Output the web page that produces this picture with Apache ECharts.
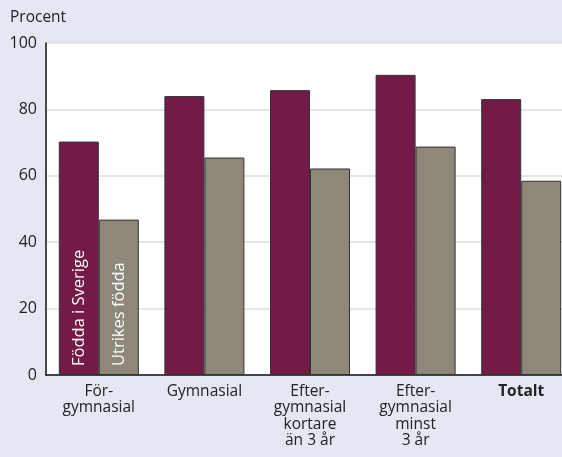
<!DOCTYPE html>
<html>
<head>
<meta charset="utf-8">
<script src="https://cdn.jsdelivr.net/npm/echarts@6/dist/echarts.min.js"></script>
<style>
  html, body { margin: 0; padding: 0; background: #e4e8f2; overflow: hidden; }
  #chart { width: 574px; height: 457px; }
</style>
</head>
<body>
<div id="chart"></div>
<script>
// kategorier (utbildningsnivå)
var categories = ['För-\ngymnasial', 'Gymnasial', 'Efter-\ngymnasial\nkortare\nän 3 år', 'Efter-\ngymnasial\nminst\n3 år', 'Totalt'];
var seriesNames = ['Födda i Sverige', 'Utrikes födda'];
var foddaSverige = [70.3, 84, 85.8, 90.4, 83.1];
var utrikesFodda = [46.8, 65.5, 62.2, 68.8, 58.5];

var FONT = '"Open Sans", sans-serif';

function insideLabel(name) {
  return {
    show: true,
    position: 'insideBottom',
    rotate: 90,
    align: 'left',
    verticalAlign: 'middle',
    // etiketten är roterad: x = uppåt, y = åt sidan
    offset: [4, 0],
    color: '#fff',
    fontFamily: FONT,
    fontSize: 16.5,
    formatter: name
  };
}

function buildData(values, name) {
  return values.map(function (v, i) {
    if (i == 0) {
      return { value: v, label: insideLabel(name) };
    }
    return v;
  });
}

// diagrammet är bredare än fönstret, högra kanten skärs av som i originalet
var chart = echarts.init(document.getElementById('chart'), null, { renderer: 'canvas' });

var option = {
  backgroundColor: '#e4e8f2',
  animation: false,
  textStyle: { fontFamily: FONT },
  grid: {
    left: 46,
    right: 0,
    top: 43,
    bottom: 82,
    show: true,
    backgroundColor: '#ffffff',
    borderWidth: 0
  },
  graphic: [
    {
      type: 'text',
      left: 10,
      top: 10,
      style: { text: 'Procent', fontFamily: FONT, fontSize: 15.5, fill: '#222' }
    }
  ],
  xAxis: {
    type: 'category',
    data: categories,
    axisLine: { lineStyle: { color: '#111', width: 1.5 } },
    axisTick: { show: false },
    axisLabel: {
      interval: 0,
      margin: 8,
      color: '#222',
      fontFamily: FONT,
      fontSize: 15.5,
      lineHeight: 16.5,
      formatter: function (v) {
        if (v == 'Totalt') return '{b|' + v + '}';
        return v;
      },
      rich: {
        b: { fontWeight: 'bold', fontFamily: FONT, fontSize: 15.5, color: '#222' }
      }
    }
  },
  yAxis: {
    type: 'value',
    min: 0,
    max: 100,
    interval: 20,
    axisLine: { show: true, lineStyle: { color: '#111', width: 1.5 } },
    axisTick: { show: false },
    axisLabel: { color: '#222', fontFamily: FONT, fontSize: 16, margin: 9 },
    splitLine: { lineStyle: { color: '#dedede', width: 1.5 } }
  },
  series: [
    {
      name: seriesNames[0],
      type: 'bar',
      data: buildData(foddaSverige, seriesNames[0]),
      barWidth: 40,
      barGap: '0%',
      itemStyle: { color: '#741a46', borderColor: '#333', borderWidth: 1 }
    },
    {
      name: seriesNames[1],
      type: 'bar',
      data: buildData(utrikesFodda, seriesNames[1]),
      barWidth: 40,
      barGap: '0%',
      itemStyle: { color: '#8e887b', borderColor: '#333', borderWidth: 1 }
    }
  ]
};

chart.setOption(option);
</script>
</body>
</html>
